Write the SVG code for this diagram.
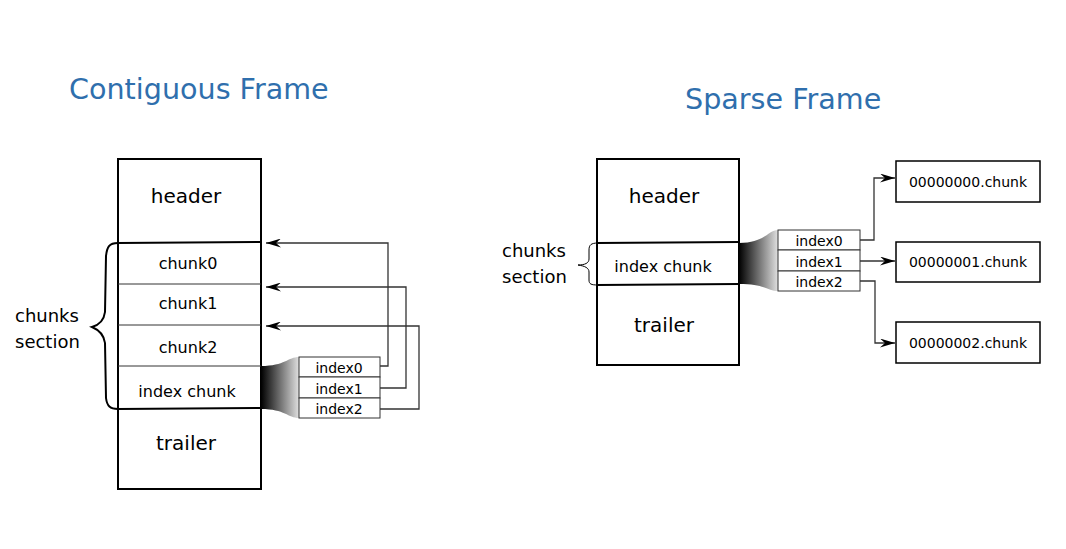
<svg xmlns="http://www.w3.org/2000/svg" width="1066" height="549" viewBox="0 0 1066 549">
<style>
text{font-family:"DejaVu Sans",Verdana,sans-serif;fill:#000;}
.title{font-size:28.6px;fill:#2f6fad;}
.big{font-size:20px;text-anchor:middle;}
.mid{font-size:16px;text-anchor:middle;}
.small{font-size:14px;text-anchor:middle;}
.lbl{font-size:18px;}
.frame{fill:#fff;stroke:#000;stroke-width:2;}
.thin{stroke:#333;stroke-width:1;fill:none;}
.thick{stroke:#000;stroke-width:2;fill:none;}
.box{fill:#fff;stroke:#333;stroke-width:1;}
.cbox{fill:#fff;stroke:#000;stroke-width:1.5;}
.conn{stroke:#333;stroke-width:1.3;fill:none;marker-end:url(#arr);}
</style>
<defs>
<marker id="arr" viewBox="0 0 15 9" refX="15" refY="4.5" markerWidth="15" markerHeight="9" markerUnits="userSpaceOnUse" orient="auto">
<path d="M0,0 L15,4.5 L0,9 L5,4.5 Z" fill="#000"/>
</marker>
<linearGradient id="fade" x1="0" y1="0" x2="1" y2="0">
<stop offset="0" stop-color="#000"/>
<stop offset="1" stop-color="#e0e0e0"/>
</linearGradient>
</defs>
<rect width="1066" height="549" fill="#fff"/>
<text class="title" x="69" y="99">Contiguous Frame</text>
<text class="title" x="685" y="109">Sparse Frame</text>

<g id="contiguous-frame">
<rect class="frame" x="118" y="159" width="143" height="330"/>
<line class="thin" x1="118" y1="284" x2="261" y2="284"/>
<line class="thin" x1="118" y1="325" x2="261" y2="325"/>
<line class="thin" x1="118" y1="366" x2="261" y2="366"/>
<line class="thick" x1="118" y1="243" x2="261" y2="242"/>
<line class="thick" x1="118" y1="409" x2="261" y2="408"/>
<text class="big" x="186" y="203">header</text>
<text class="mid" x="188" y="269">chunk0</text>
<text class="mid" x="188" y="309">chunk1</text>
<text class="mid" x="188" y="353">chunk2</text>
<text class="mid" x="187" y="397">index chunk</text>
<text class="big" x="186" y="450">trailer</text>
</g>
<g id="contiguous-brace">
<path class="thick" d="M118,243 C109,243 107,247 106,256 L105,312 C104,320 99,325 92,327 C99,330 104,335 105,343 L106,398 C107,406 110,409 118,409"/>
<text class="lbl" x="15" y="322">chunks</text>
<text class="lbl" x="15" y="348">section</text>
</g>
<g id="contiguous-index">
<path d="M261,366 C285,366 288,357 299,357 L299,418 C288,418 285,409 261,409 Z" fill="url(#fade)"/>
<rect class="box" x="299" y="357" width="81" height="20"/>
<rect class="box" x="299" y="377" width="81" height="21"/>
<rect class="box" x="299" y="398" width="81" height="20"/>
<text class="small" x="339" y="373">index0</text>
<text class="small" x="339" y="394">index1</text>
<text class="small" x="339" y="414">index2</text>
</g>

<g id="sparse-frame">
<rect class="frame" x="597" y="159" width="142" height="206"/>
<line class="thick" x1="597" y1="243" x2="739" y2="242"/>
<line class="thick" x1="597" y1="285" x2="739" y2="284"/>
<text class="big" x="664" y="203">header</text>
<text class="mid" x="663" y="272">index chunk</text>
<text class="big" x="664" y="332">trailer</text>
</g>
<g id="sparse-brace">
<path d="M598,243 C591,243 589,245 589,250 L589,259 C589,263 585,265 578,265 C585,266 589,268 589,272 L589,280 C589,284 591,285 598,285" fill="none" stroke="#000" stroke-width="1"/>
<text class="lbl" x="502" y="257">chunks</text>
<text class="lbl" x="502" y="283">section</text>
</g>
<g id="sparse-index">
<path d="M739,243 C765,243 768,230 778,230 L778,291 C768,291 765,284 739,284 Z" fill="url(#fade)"/>
<rect class="box" x="778" y="230" width="82" height="20"/>
<rect class="box" x="778" y="250" width="82" height="21"/>
<rect class="box" x="778" y="271" width="82" height="20"/>
<text class="small" x="819" y="246">index0</text>
<text class="small" x="819" y="267">index1</text>
<text class="small" x="819" y="287">index2</text>
</g>
<g id="chunk-00000000">
<rect class="cbox" x="896" y="161" width="144" height="41"/>
<text class="small" x="968" y="187">00000000.chunk</text>
</g>
<g id="chunk-00000001">
<rect class="cbox" x="896" y="242" width="144" height="40"/>
<text class="small" x="968" y="267">00000001.chunk</text>
</g>
<g id="chunk-00000002">
<rect class="cbox" x="896" y="322" width="144" height="41"/>
<text class="small" x="968" y="348">00000002.chunk</text>
</g>

<g id="connectors">
<path class="conn" d="M380,366 H388 V243 H266"/>
<path class="conn" d="M380,388 H406 V287 H266"/>
<path class="conn" d="M380,409 H419 V326 H266"/>
<path class="conn" d="M860,240 H874 V178 H895"/>
<path class="conn" d="M860,261 H895"/>
<path class="conn" d="M860,281 H875 V343 H895"/>
</g>
</svg>
